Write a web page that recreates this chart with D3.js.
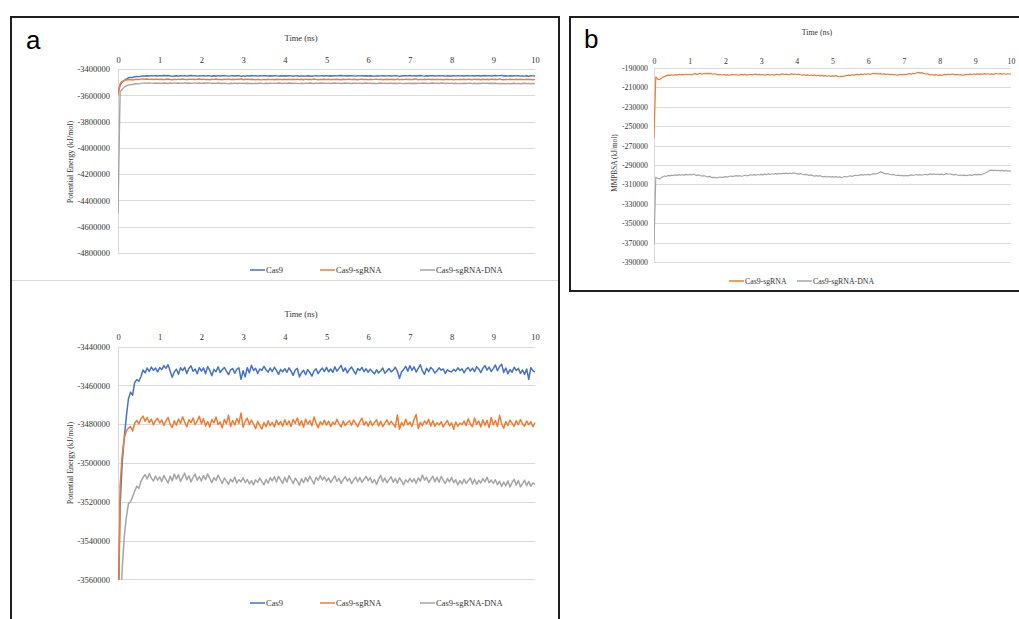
<!DOCTYPE html>
<html><head><meta charset="utf-8">
<script src="https://cdn.jsdelivr.net/npm/d3@7"></script>
<style>
body{margin:0;background:#fff;}
svg{display:block;}
</style>
</head><body>
<svg id="c" width="1019" height="619"></svg>
<script>
// ---------------- DATA ----------------
const timeStepNs = 0.05;               // sampling interval of all series (ns)
const xTicks = [0,1,2,3,4,5,6,7,8,9,10];

const seriesNamesA = ["Cas9","Cas9-sgRNA","Cas9-sgRNA-DNA"];
// Potential energy (kJ/mol)
const cas9 = [
-3585000,-3522000,-3500000,-3487000,-3476000,-3467000,-3463500,-3465000,-3458500,-3457000,-3457800,-3455500,-3452000,-3453500,-3451000,-3452800,-3450500,-3452200,-3451000,-3453000,
-3450800,-3451800,-3449800,-3451200,-3449300,-3452500,-3455800,-3453000,-3451600,-3454200,-3450900,-3452300,-3450600,-3453800,-3451200,-3449900,-3452700,-3451500,-3454000,-3450800,
-3452600,-3451000,-3453900,-3450300,-3452100,-3455000,-3451700,-3452900,-3450400,-3453300,-3451900,-3450700,-3452600,-3454400,-3452000,-3451300,-3453700,-3451600,-3450900,-3456800,
-3452400,-3455600,-3450800,-3453500,-3449600,-3452300,-3451100,-3453800,-3451500,-3452200,-3450200,-3451900,-3453100,-3451000,-3452800,-3450600,-3452200,-3454300,-3451700,-3452900,
-3451300,-3453200,-3450900,-3452600,-3454800,-3452000,-3451100,-3455600,-3453400,-3452200,-3454500,-3451800,-3453300,-3455200,-3452500,-3451400,-3453900,-3452300,-3451000,-3452800,
-3450700,-3452900,-3451500,-3453300,-3450400,-3452600,-3451200,-3449600,-3452700,-3451000,-3453500,-3451800,-3450500,-3452400,-3454100,-3451300,-3452200,-3450700,-3452900,-3451400,
-3453200,-3451600,-3452800,-3454000,-3451900,-3453600,-3452400,-3451000,-3453700,-3452500,-3451300,-3453000,-3452100,-3450600,-3452700,-3456300,-3452900,-3451700,-3450200,-3452600,
-3449800,-3452200,-3450400,-3453100,-3451200,-3449300,-3452500,-3454200,-3451100,-3452900,-3450700,-3451800,-3453600,-3452400,-3450900,-3452100,-3451500,-3453800,-3451900,-3452700,
-3453000,-3451700,-3452600,-3450900,-3452300,-3451400,-3453500,-3451600,-3450800,-3452600,-3451100,-3452900,-3450300,-3451500,-3453400,-3451200,-3449700,-3452100,-3450500,-3452800,
-3451300,-3449400,-3452400,-3450200,-3449000,-3453300,-3451000,-3454000,-3451800,-3453200,-3450600,-3452300,-3451200,-3453800,-3452000,-3454300,-3451500,-3456800,-3450800,-3452500,
-3453000];
const cas9SgRNA = [
-3600000,-3512000,-3496000,-3487000,-3483500,-3482000,-3481200,-3483500,-3479500,-3478000,-3479800,-3477200,-3475800,-3478500,-3476500,-3479200,-3477400,-3480300,-3478100,-3476900,
-3479400,-3477800,-3480600,-3478300,-3476400,-3479900,-3481700,-3478200,-3480500,-3477300,-3479600,-3476200,-3478900,-3481300,-3477700,-3479200,-3476800,-3480200,-3478400,-3475900,
-3479800,-3477100,-3480900,-3478600,-3481400,-3477600,-3479300,-3476300,-3480100,-3478800,-3481900,-3477500,-3479700,-3475300,-3481200,-3478100,-3480400,-3477000,-3479600,-3474200,
-3481600,-3478400,-3476900,-3480200,-3477800,-3479900,-3482300,-3478500,-3480600,-3482500,-3479100,-3481300,-3478200,-3480700,-3479000,-3481400,-3477900,-3480300,-3478600,-3481000,
-3477700,-3480400,-3478300,-3481100,-3477600,-3479500,-3476800,-3480600,-3478200,-3481500,-3477400,-3479900,-3478100,-3480800,-3476300,-3479300,-3481800,-3478700,-3480200,-3477900,
-3480500,-3478400,-3481200,-3478900,-3480100,-3477500,-3479800,-3481400,-3478300,-3480700,-3479100,-3478200,-3480500,-3477800,-3479600,-3481300,-3478700,-3476900,-3480400,-3478600,
-3481000,-3478300,-3480600,-3479200,-3477700,-3480900,-3478500,-3481300,-3479400,-3477800,-3480200,-3478600,-3479900,-3481500,-3475200,-3482600,-3479100,-3480800,-3477400,-3480300,
-3478900,-3481100,-3477600,-3475000,-3482300,-3479000,-3480700,-3478300,-3479800,-3477500,-3480900,-3478200,-3481000,-3479200,-3480400,-3478700,-3481400,-3479600,-3478100,-3480800,
-3479300,-3482600,-3478800,-3481000,-3479400,-3480200,-3478400,-3480700,-3477200,-3479900,-3481300,-3476800,-3480100,-3478300,-3481400,-3477700,-3480500,-3478000,-3481700,-3476500,
-3480400,-3478100,-3481200,-3475400,-3479800,-3482100,-3478600,-3480700,-3477900,-3479500,-3481100,-3478200,-3480300,-3477600,-3479800,-3481000,-3478300,-3480200,-3478700,-3481300,
-3479200];
const cas9SgRNADNA = [
-4500000,-3576000,-3555000,-3538000,-3528000,-3521000,-3520000,-3517500,-3514500,-3512000,-3513000,-3509500,-3507500,-3506000,-3508200,-3505400,-3507800,-3509300,-3506700,-3508900,
-3507100,-3509600,-3506400,-3508500,-3510300,-3506800,-3509200,-3505700,-3508300,-3506100,-3509500,-3507300,-3505200,-3508700,-3506600,-3509800,-3507400,-3505800,-3508900,-3507000,
-3509300,-3506500,-3508600,-3505600,-3507900,-3510200,-3507500,-3509000,-3506300,-3508400,-3510600,-3507700,-3509200,-3511000,-3508300,-3509800,-3507200,-3510400,-3508600,-3509700,
-3507600,-3510100,-3508400,-3510800,-3509100,-3511200,-3508700,-3510000,-3507800,-3509600,-3511300,-3508500,-3510400,-3507600,-3509200,-3507100,-3509800,-3506900,-3508700,-3510500,
-3507400,-3509900,-3506600,-3508500,-3510700,-3507800,-3509300,-3511400,-3508100,-3510200,-3507500,-3509600,-3506800,-3508900,-3510900,-3507300,-3509000,-3506500,-3508800,-3507200,
-3509400,-3507700,-3510100,-3508300,-3506700,-3509500,-3507900,-3510500,-3508600,-3507000,-3509300,-3508000,-3510600,-3508800,-3507300,-3509600,-3507500,-3510000,-3508400,-3506900,
-3509100,-3507600,-3510300,-3508500,-3511100,-3508200,-3506400,-3509700,-3507800,-3510200,-3508600,-3507100,-3509900,-3508100,-3510400,-3507600,-3509300,-3511200,-3508700,-3510000,
-3507900,-3509800,-3508200,-3510500,-3507700,-3509400,-3506200,-3508900,-3507300,-3510100,-3508400,-3506800,-3509600,-3507400,-3509900,-3507000,-3508800,-3510600,-3508000,-3509700,
-3507500,-3510200,-3508600,-3511300,-3509000,-3510800,-3508300,-3510500,-3509200,-3507700,-3510900,-3508400,-3511000,-3508900,-3510300,-3508100,-3509700,-3507400,-3510200,-3508800,
-3510500,-3508600,-3511200,-3509400,-3512100,-3509800,-3511800,-3509200,-3512400,-3510100,-3508400,-3511500,-3509000,-3512300,-3510600,-3508900,-3511700,-3509500,-3512000,-3510300,
-3511000];
const yTicksTop = [-3400000,-3600000,-3800000,-4000000,-4200000,-4400000,-4600000,-4800000];
const yTicksBottom = [-3440000,-3460000,-3480000,-3500000,-3520000,-3540000,-3560000];

const seriesNamesB = ["Cas9-sgRNA","Cas9-sgRNA-DNA"];
// MMPBSA (kJ/mol)
const mmpbsaSgRNA = [
-262000,-199500,-201800,-202400,-201000,-199800,-198900,-198200,-197600,-197900,-197300,-197800,-197100,-197600,-196900,-197400,-196800,-197200,-196500,-197300,
-196700,-197400,-196500,-196100,-196800,-196300,-195900,-196600,-196000,-196500,-195800,-196400,-195900,-196700,-196200,-196900,-197300,-196800,-197500,-197000,
-197600,-197100,-197800,-197300,-196900,-197500,-197000,-197700,-197300,-196800,-197400,-196900,-197600,-197200,-196700,-197400,-197000,-196600,-197200,-196800,
-197400,-197000,-197700,-197200,-196800,-197500,-197000,-197600,-197100,-196700,-197300,-196800,-196400,-197000,-196600,-197200,-196800,-196300,-196900,-196500,
-197000,-196600,-197200,-197700,-197300,-197900,-197400,-198000,-197500,-198200,-197700,-198300,-197800,-198400,-197900,-198600,-198100,-198800,-198300,-198900,
-198400,-198700,-198100,-198900,-199300,-198700,-199100,-198400,-198000,-197600,-197900,-197300,-197700,-197100,-196800,-197300,-196600,-197100,-196500,-196900,
-196200,-196800,-196400,-195700,-196300,-195900,-196500,-196100,-196700,-196300,-196900,-196500,-197100,-196700,-197400,-197000,-197700,-197300,-196900,-197400,
-196800,-197200,-196600,-196100,-196700,-195800,-196200,-195500,-194800,-195600,-195000,-195900,-196500,-196200,-196800,-197300,-197000,-197600,-197200,-197900,
-197400,-197900,-197300,-196800,-197300,-196700,-197100,-196500,-196900,-197400,-196900,-197500,-197100,-197800,-197300,-196800,-197200,-196600,-197000,-196500,
-196900,-196400,-196800,-196300,-196700,-196100,-196600,-196200,-196700,-196300,-196800,-196400,-196000,-196500,-196100,-196600,-196200,-196700,-196300,-196500,
-196400];
const mmpbsaSgRNADNA = [
-372000,-302500,-303600,-304400,-303200,-302000,-301300,-301800,-300600,-301200,-300400,-300900,-300200,-300700,-299900,-300500,-299800,-300400,-299600,-300300,
-299700,-300200,-299500,-300100,-300600,-300100,-300800,-301400,-300900,-301600,-302200,-301700,-302500,-303000,-302600,-303300,-302800,-302300,-302900,-302400,
-301900,-302500,-301800,-301300,-301900,-301400,-300900,-301500,-301000,-301600,-301100,-300500,-301100,-300600,-300000,-300500,-299900,-300400,-299800,-300300,
-299600,-300100,-299400,-299900,-299200,-299700,-299000,-299500,-298800,-299400,-298700,-299200,-298500,-298900,-298300,-298800,-298200,-298700,-298100,-298500,
-298900,-299400,-298800,-299500,-300000,-299600,-300200,-300700,-300200,-300900,-301400,-300900,-301500,-301000,-301700,-302200,-301700,-302300,-301800,-302400,
-301900,-302500,-302000,-302600,-302200,-302800,-302300,-301800,-302300,-301600,-301100,-301700,-301000,-300500,-301000,-300400,-299900,-300400,-299800,-300200,
-299600,-300100,-299500,-298900,-299400,-298700,-297900,-297100,-297800,-298600,-299200,-298800,-299500,-300000,-299600,-300300,-300800,-300400,-301000,-300600,
-301100,-300600,-301200,-300700,-300200,-300800,-300300,-299800,-300400,-299900,-300500,-300000,-299500,-300100,-299600,-299100,-299700,-299200,-299800,-299300,
-299900,-299400,-300000,-299500,-298900,-299500,-299000,-299600,-300200,-299700,-300300,-300800,-300300,-300900,-300400,-301000,-300500,-300100,-300700,-300200,
-299700,-300200,-299600,-300100,-299500,-298800,-297900,-296800,-295600,-295200,-295800,-295300,-295900,-295400,-296000,-295500,-296100,-295700,-296300,-295900,
-296500];
const yTicksB = [-190000,-210000,-230000,-250000,-270000,-290000,-310000,-330000,-350000,-370000,-390000];

// ---------------- DRAWING ----------------
const COLORS = {"Cas9":"#4472C4","Cas9-sgRNA":"#ED7D31","Cas9-sgRNA-DNA":"#A5A5A5"};
const SERIF = "'Liberation Serif','Times New Roman',serif";
const TXT = "#333";
const svg = d3.select("#c");
let clipId = 0;

function chart(o){
  const g = svg.append("g");
  const x = d3.scaleLinear().domain([0,10]).range([o.left,o.right]);
  const y = d3.scaleLinear().domain([o.yTicks[o.yTicks.length-1], o.yTicks[0]]).range([o.bottom,o.top]);

  g.selectAll("line.grid").data(o.yTicks).join("line")
    .attr("x1",o.left).attr("x2",o.right)
    .attr("y1",d=>Math.round(y(d))+0.5).attr("y2",d=>Math.round(y(d))+0.5)
    .attr("stroke","#d9d9d9").attr("stroke-width",1);
  g.append("line").attr("x1",o.left+0.5).attr("x2",o.left+0.5)
    .attr("y1",o.top).attr("y2",o.bottom).attr("stroke","#d9d9d9");

  const xa = g.append("g").attr("transform",`translate(0,${o.xLabelY})`)
    .call(d3.axisTop(x).tickValues(xTicks).tickSize(0).tickPadding(0).tickFormat(d=>String(d)));
  xa.select(".domain").remove();
  xa.attr("font-family",SERIF).attr("font-size",o.fs);
  xa.selectAll("text").attr("fill",TXT);

  const ya = g.append("g").attr("transform",`translate(${o.yLabelX},0)`)
    .call(d3.axisLeft(y).tickValues(o.yTicks).tickSize(0).tickPadding(0).tickFormat(d=>String(d)));
  ya.select(".domain").remove();
  ya.attr("font-family",SERIF).attr("font-size",o.fs);
  ya.selectAll("text").attr("fill",TXT);

  g.append("text").attr("x",o.titleX).attr("y",o.titleY).attr("text-anchor","middle")
    .attr("font-family",SERIF).attr("font-size",o.fs).attr("fill",TXT).text("Time (ns)");
  g.append("text").attr("transform",`translate(${o.yTitleX},${o.yTitleY}) rotate(-90)`)
    .attr("text-anchor","middle").attr("font-family",SERIF).attr("font-size",o.fs-0.5)
    .attr("fill",TXT).text(o.yTitle);

  const id = "clip"+(clipId++);
  g.append("clipPath").attr("id",id).append("rect")
    .attr("x",o.left).attr("y",o.top-1).attr("width",o.right-o.left+1).attr("height",o.bottom-o.top+1.5);
  const line = d3.line().x((d,i)=>x(i*timeStepNs)).y(d=>y(d));
  const lg = g.append("g").attr("clip-path",`url(#${id})`);
  o.series.forEach(s=>{
    lg.append("path").datum(s.values).attr("d",line).attr("fill","none")
      .attr("stroke",COLORS[s.name]).attr("stroke-width",o.lw).attr("stroke-linejoin","round");
  });

  o.series.forEach((s,i)=>{
    const lx = o.legendX[i];
    g.append("line").attr("x1",lx).attr("x2",lx+15).attr("y1",o.legendY).attr("y2",o.legendY)
      .attr("stroke",COLORS[s.name]).attr("stroke-width",1.5);
    g.append("text").attr("x",lx+16).attr("y",o.legendY+3).attr("font-family",SERIF)
      .attr("font-size",o.fs).attr("fill",TXT).text(s.name);
  });
}

// frames
svg.append("rect").attr("x",11).attr("y",17).attr("width",548).attr("height",640)
  .attr("fill","none").attr("stroke","#1f1f1f").attr("stroke-width",2);
svg.append("line").attr("x1",12).attr("x2",558).attr("y1",280.5).attr("y2",280.5).attr("stroke","#d9d9d9");
svg.append("rect").attr("x",570).attr("y",17).attr("width",460).attr("height",274)
  .attr("fill","none").attr("stroke","#1f1f1f").attr("stroke-width",2);

svg.append("text").attr("x",26).attr("y",49).attr("font-family","'Liberation Sans',Arial,sans-serif")
  .attr("font-size",26).attr("fill","#000").text("a");
svg.append("text").attr("x",584).attr("y",48).attr("font-family","'Liberation Sans',Arial,sans-serif")
  .attr("font-size",26).attr("fill","#000").text("b");

const seriesA = [
  {name:seriesNamesA[0], values:cas9},
  {name:seriesNamesA[1], values:cas9SgRNA},
  {name:seriesNamesA[2], values:cas9SgRNADNA}];

chart({left:118,right:535,top:69,bottom:253,yTicks:yTicksTop,xLabelY:63,yLabelX:110,
  titleX:301,titleY:41,yTitleX:73,yTitleY:162,yTitle:"Potential Energy (kJ/mol)",
  fs:8.5,lw:1.4,series:seriesA,legendX:[250,320,420],legendY:270});

chart({left:118,right:535,top:346.7,bottom:579.3,yTicks:yTicksBottom,xLabelY:340,yLabelX:110,
  titleX:301,titleY:317,yTitleX:73,yTitleY:463,yTitle:"Potential Energy (kJ/mol)",
  fs:8.5,lw:1.5,series:seriesA,legendX:[250,320,420],legendY:603});

chart({left:654,right:1011,top:67.7,bottom:262.3,yTicks:yTicksB,xLabelY:63.5,yLabelX:648,
  titleX:817,titleY:34.5,yTitleX:617,yTitleY:163,yTitle:"MMPBSA (kJ/mol)",
  fs:7.8,lw:1.2,series:[{name:seriesNamesB[0],values:mmpbsaSgRNA},{name:seriesNamesB[1],values:mmpbsaSgRNADNA}],
  legendX:[729,797],legendY:281});
</script>
</body></html>
